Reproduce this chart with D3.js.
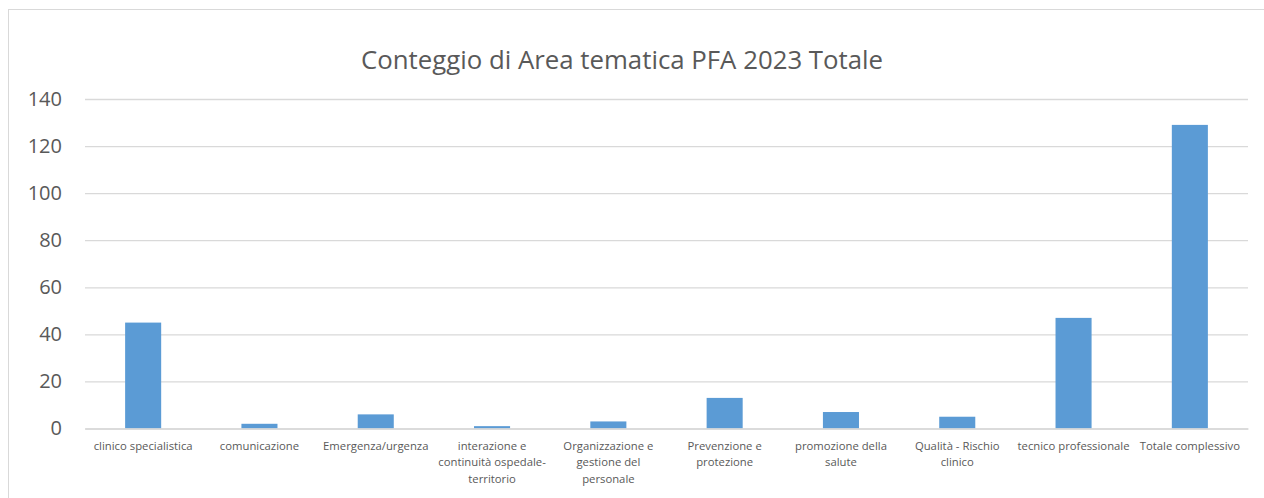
<!DOCTYPE html>
<html>
<head>
<meta charset="utf-8">
<script src="https://cdn.jsdelivr.net/npm/d3@7"></script>
<style>
  body { margin: 0; background: #fff; }
  svg text { font-family: "Open Sans", "Liberation Sans", sans-serif; fill: #595959; }
</style>
</head>
<body>
<svg id="chart" width="1264" height="498"></svg>
<script>
const categories = [
    "clinico specialistica",
    "comunicazione",
    "Emergenza/urgenza",
    "interazione e continuità ospedale-territorio",
    "Organizzazione e gestione del personale",
    "Prevenzione e protezione",
    "promozione della salute",
    "Qualità - Rischio clinico",
    "tecnico professionale",
    "Totale complessivo"
];
const values = [45, 2, 6, 1, 3, 13, 7, 5, 47, 129];
const yTicks = [0, 20, 40, 60, 80, 100, 120, 140];
const title = "Conteggio di Area tematica PFA 2023 Totale";

const width = 1264;
const height = 498;
const margin = { top: 99, right: 16, bottom: 69.5, left: 85 };
const plotW = width - margin.left - margin.right;
const plotH = height - margin.top - margin.bottom;

const svg = d3.select("#chart");

// chart frame (runs off the right and bottom of the picture)
svg.append("rect")
    .attr("x", 8.5)
    .attr("y", 9.5)
    .attr("width", 1300)
    .attr("height", 600)
    .attr("fill", "#fff")
    .attr("stroke", "#d9d9d9");

svg.append("text")
    .attr("x", 622)
    .attr("y", 69)
    .attr("text-anchor", "middle")
    .style("font-size", "25.8px")
    .text(title);

const g = svg.append("g")
    .attr("transform", `translate(${margin.left}, ${margin.top})`);

const x = d3.scaleBand()
    .domain(categories)
    .range([0, plotW])
    .paddingInner(0.69)
    .paddingOuter(0.345);

const y = d3.scaleLinear()
    .domain([0, 140])
    .range([plotH, 0]);

// gridlines + y labels
const yAxis = g.append("g")
    .call(d3.axisLeft(y).tickValues(yTicks).tickSize(-plotW).tickPadding(23));
yAxis.select(".domain").remove();
yAxis.selectAll("line").attr("stroke", "#d9d9d9").attr("stroke-width", 1.3);
yAxis.selectAll("text")
    .style("font-size", "20px")
    .attr("fill", "#595959");

// bars
g.selectAll(".bar")
    .data(values)
    .enter()
    .append("rect")
    .attr("class", "bar")
    .attr("x", (d, i) => x(categories[i]))
    .attr("y", d => y(d))
    .attr("width", x.bandwidth())
    .attr("height", d => plotH - y(d))
    .attr("fill", "#5b9bd5");

// x labels, wrapped to the category slot (breaks at spaces and after word hyphens)
const slot = plotW / categories.length;
const render = arr => arr.reduce((s, w, k) =>
    k === 0 ? w : (arr[k - 1].endsWith("-") && arr[k - 1] !== "-" ? s + w : s + " " + w), "");

const xAxis = g.append("g")
    .attr("transform", `translate(0, ${plotH})`)
    .call(d3.axisBottom(x).tickSize(0).tickPadding(13));
xAxis.select(".domain").attr("stroke", "#d9d9d9").attr("stroke-width", 1.3);
xAxis.selectAll("text")
    .style("font-size", "11.3px")
    .each(function (d) {
        const text = d3.select(this);
        const words = d.replace(/(\w)-(\w)/g, "$1-\u0001$2").split(/ |\u0001/).filter(w => w.length);
        text.text(null);
        let line = [];
        let tspan = text.append("tspan").attr("x", 0).attr("dy", "0.71em");
        words.forEach(w => {
            line.push(w);
            tspan.text(render(line));
            if (tspan.node().getComputedTextLength() > slot - 2 && line.length > 1) {
                line.pop();
                tspan.text(render(line));
                line = [w];
                tspan = text.append("tspan").attr("x", 0).attr("dy", 16.5).text(w);
            }
        });
    });
</script>
</body>
</html>
